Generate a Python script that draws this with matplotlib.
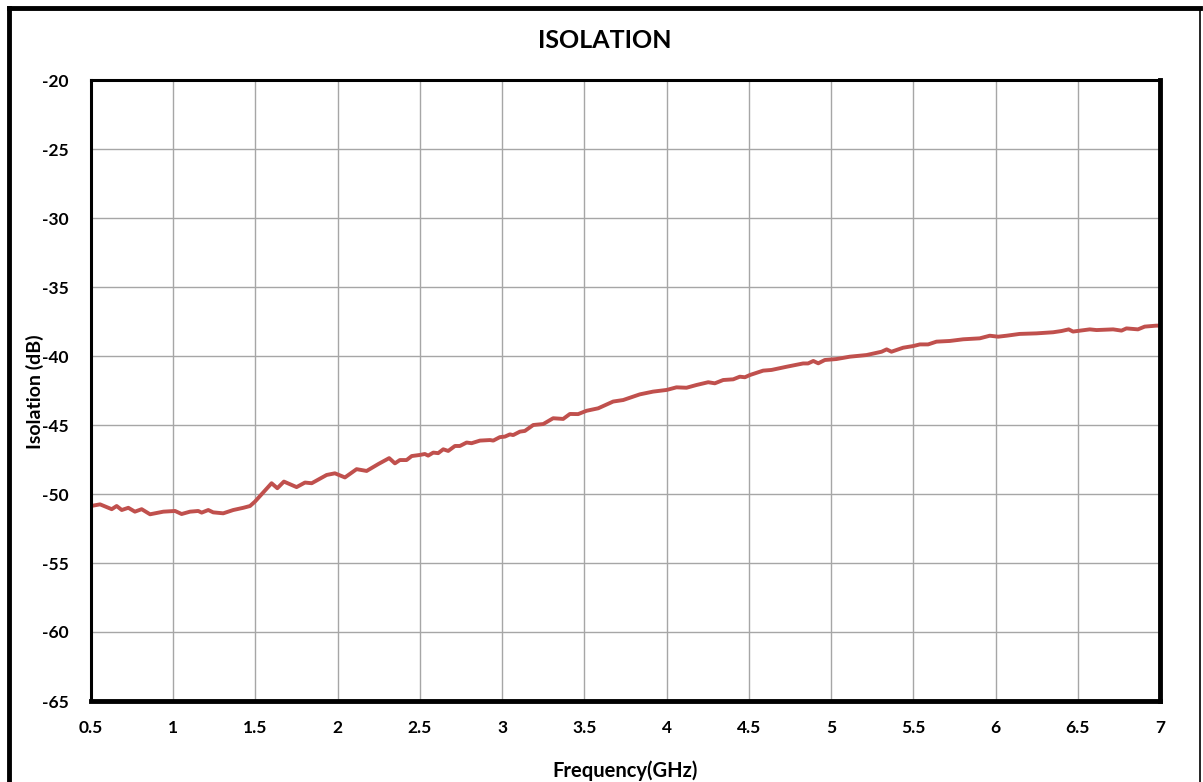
import numpy as np
import matplotlib.pyplot as plt
from matplotlib.lines import Line2D

# isolation trace (GHz, dB)
freq_ghz = [0.50, 0.555, 0.626, 0.656, 0.687, 0.727, 0.767, 0.808, 0.859, 0.940,
            1.011, 1.051, 1.102, 1.152, 1.173, 1.213, 1.243, 1.304, 1.365, 1.426,
            1.467, 1.497, 1.598, 1.633, 1.673, 1.750, 1.801, 1.842, 1.933, 1.983,
            2.044, 2.115, 2.176, 2.247, 2.313, 2.348, 2.378, 2.419, 2.450, 2.500,
            2.530, 2.550, 2.581, 2.611, 2.642, 2.672, 2.713, 2.743, 2.784, 2.814,
            2.865, 2.926, 2.946, 2.986, 3.017, 3.047, 3.067, 3.108, 3.138, 3.189,
            3.250, 3.310, 3.371, 3.412, 3.462, 3.513, 3.584, 3.675, 3.736, 3.837,
            3.918, 4.000, 4.060, 4.121, 4.182, 4.253, 4.293, 4.344, 4.405, 4.445,
            4.476, 4.506, 4.587, 4.638, 4.729, 4.830, 4.860, 4.892, 4.922, 4.962,
            5.033, 5.114, 5.216, 5.307, 5.338, 5.367, 5.438, 5.499, 5.540, 5.590,
            5.641, 5.722, 5.803, 5.904, 5.965, 6.016, 6.067, 6.147, 6.249, 6.350,
            6.401, 6.445, 6.471, 6.573, 6.614, 6.715, 6.766, 6.796, 6.866, 6.907,
            6.978, 7.000]
isolation_db = [-50.87, -50.75, -51.10, -50.87, -51.16, -51.00, -51.28, -51.10, -51.47, -51.28,
                -51.23, -51.45, -51.28, -51.23, -51.35, -51.16, -51.33, -51.40, -51.16, -51.00,
                -50.87, -50.55, -49.22, -49.58, -49.10, -49.50, -49.17, -49.22, -48.62, -48.50,
                -48.80, -48.20, -48.33, -47.83, -47.40, -47.78, -47.54, -47.54, -47.25, -47.17,
                -47.10, -47.22, -47.00, -47.04, -46.76, -46.88, -46.52, -46.52, -46.27, -46.32,
                -46.13, -46.09, -46.13, -45.88, -45.84, -45.68, -45.73, -45.48, -45.43, -45.00,
                -44.93, -44.51, -44.56, -44.20, -44.21, -43.97, -43.79, -43.30, -43.19, -42.78,
                -42.58, -42.46, -42.27, -42.30, -42.10, -41.90, -41.98, -41.74, -41.69, -41.50,
                -41.54, -41.38, -41.06, -41.01, -40.78, -40.54, -40.54, -40.36, -40.53, -40.29,
                -40.22, -40.05, -39.93, -39.69, -39.52, -39.69, -39.40, -39.28, -39.16, -39.16,
                -38.96, -38.91, -38.79, -38.72, -38.53, -38.60, -38.53, -38.40, -38.36, -38.28,
                -38.19, -38.07, -38.23, -38.07, -38.12, -38.07, -38.16, -38.00, -38.07, -37.87,
                -37.80, -37.80]

x_ticks = [0.5, 1, 1.5, 2, 2.5, 3, 3.5, 4, 4.5, 5, 5.5, 6, 6.5, 7]
x_tick_labels = ['0.5', '1', '1.5', '2', '2.5', '3', '3.5', '4', '4.5', '5', '5.5', '6', '6.5', '7']
y_ticks = [-65, -60, -55, -50, -45, -40, -35, -30, -25, -20]

plt.rcParams['font.family'] = ['Lato', 'DejaVu Sans']
plt.rcParams['axes.unicode_minus'] = False

fig = plt.figure(figsize=(12.03, 7.82), dpi=100)
ax = fig.add_axes([91/1203, 1 - 701/782, (1160 - 91)/1203, (701 - 80)/782])

ax.plot(freq_ghz, isolation_db, color='#C0504D', lw=2.8, solid_joinstyle='round')

ax.set_xlim(0.5, 7)
ax.set_ylim(-65, -20)
ax.set_xticks(x_ticks)
ax.set_xticklabels(x_tick_labels)
ax.set_yticks(y_ticks)
ax.grid(True, color='#a6a6a6', lw=1)
ax.set_axisbelow(True)
ax.tick_params(length=0, labelsize=12.5)
ax.tick_params(axis='x', pad=14)
ax.tick_params(axis='y', pad=16)
for lbl in ax.get_xticklabels() + ax.get_yticklabels():
    lbl.set_fontweight('bold')

for side in ['left', 'top']:
    ax.spines[side].set_linewidth(2.2)
for side in ['right', 'bottom']:
    ax.spines[side].set_linewidth(3.5)

ax.set_xlabel('Frequency(GHz)', fontsize=14.5, fontweight='bold')
ax.set_ylabel('Isolation (dB)', fontsize=14, fontweight='bold')
ax.xaxis.set_label_coords((625 - 91)/1069, -(760 - 701)/621)
ax.yaxis.set_label_coords(-(91 - 44)/1069, (701 - 392)/621)
fig.text(605/1203, 1 - 40/782, 'ISOLATION', fontsize=18, fontweight='bold',
         ha='center', va='center')

# outer chart frame
fig.add_artist(Line2D([9/1203, 9/1203], [0, 1 - 8/782], transform=fig.transFigure, color='black', lw=3.5))
fig.add_artist(Line2D([9/1203, 1200/1203], [1 - 8/782, 1 - 8/782], transform=fig.transFigure, color='black', lw=3.5))
fig.add_artist(Line2D([1200/1203, 1200/1203], [0, 1 - 8/782], transform=fig.transFigure, color='black', lw=1.2))

fig.savefig('out.png', dpi=100)
